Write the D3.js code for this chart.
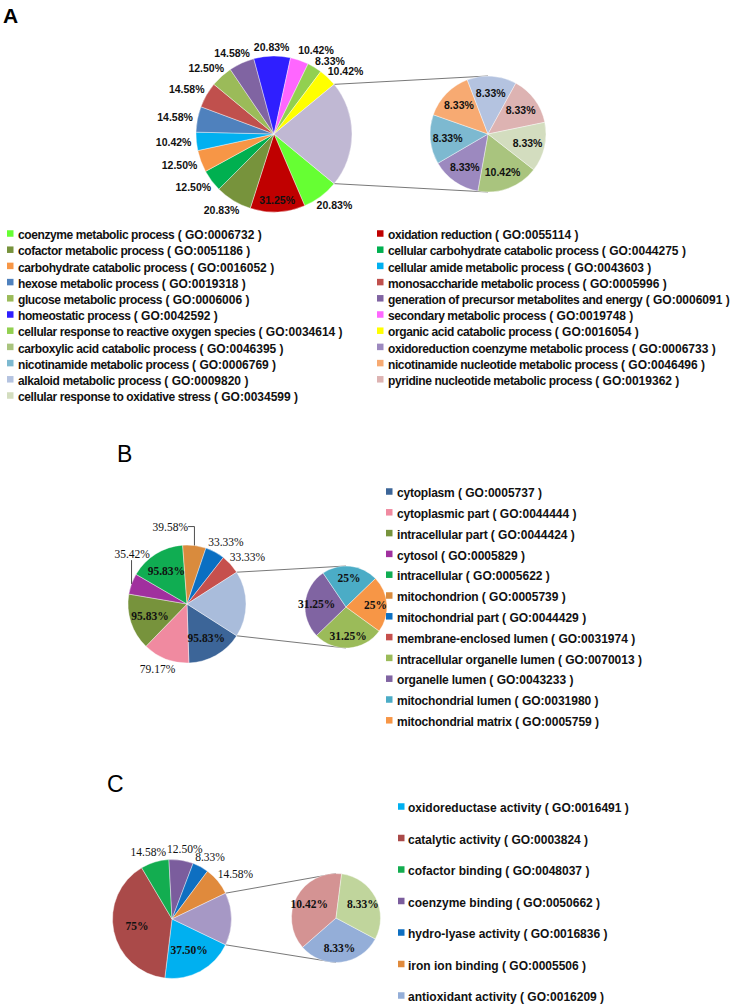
<!DOCTYPE html>
<html>
<head>
<meta charset="utf-8">
<script src="https://cdn.jsdelivr.net/npm/d3@7"></script>
<style>
  body { margin: 0; background: #fff; }
  svg { display: block; }
  .leg { font-family: "Liberation Sans", Arial, sans-serif; font-weight: bold; font-size: 12px; fill: #111; }
  .panel { font-family: "Liberation Sans", Arial, sans-serif; fill: #000; }
</style>
</head>
<body>
<svg id="fig" width="735" height="1008"></svg>
<script>
// ---- panel A : biological process ----
const A_MAIN = ["coenzyme metabolic process", "oxidation reduction", "cofactor metabolic process",
  "cellular carbohydrate catabolic process", "carbohydrate catabolic process", "cellular amide metabolic process",
  "hexose metabolic process", "monosaccharide metabolic process", "glucose metabolic process",
  "generation of precursor metabolites and energy", "homeostatic process", "secondary metabolic process",
  "cellular response to reactive oxygen species", "organic acid catabolic process"];
const A_MAIN_GO = ["0006732", "0055114", "0051186", "0044275", "0016052", "0043603", "0019318",
  "0005996", "0006006", "0006091", "0042592", "0019748", "0034614", "0016054"];
const A_MAIN_VAL = [20.83, 31.25, 20.83, 12.50, 12.50, 10.42, 14.58, 14.58, 12.50, 14.58, 20.83, 10.42, 8.33, 10.42];
const A_MAIN_COL = ["#66ff33", "#c00000", "#77933c", "#00b050", "#f79646", "#00b0f0", "#4f81bd",
  "#c0504d", "#9bbb59", "#8064a2", "#2f1fff", "#ff66ff", "#92d050", "#ffff00"];
const A_SUB = ["carboxylic acid catabolic process", "oxidoreduction coenzyme metabolic process",
  "nicotinamide metabolic process", "nicotinamide nucleotide metabolic process", "alkaloid metabolic process",
  "pyridine nucleotide metabolic process", "cellular response to oxidative stress"];
const A_SUB_GO = ["0046395", "0006733", "0006769", "0046496", "0009820", "0019362", "0034599"];
const A_SUB_VAL = [10.42, 8.33, 8.33, 8.33, 8.33, 8.33, 8.33];
const A_SUB_COL = ["#a9c47e", "#9c89bf", "#7db9d0", "#f7aa72", "#b4c3e0", "#ddb3b2", "#d3ddbf"];
const A_OTHER_COL = "#c0b8d3";

// ---- panel B : cellular component ----
const B_MAIN = ["cytoplasm", "cytoplasmic part", "intracellular part", "cytosol", "intracellular",
  "mitochondrion", "mitochondrial part", "membrane-enclosed lumen"];
const B_MAIN_GO = ["0005737", "0044444", "0044424", "0005829", "0005622", "0005739", "0044429", "0031974"];
const B_MAIN_VAL = [95.83, 79.17, 95.83, 35.42, 95.83, 39.58, 33.33, 33.33];
const B_MAIN_COL = ["#3c6598", "#f08aa0", "#77933c", "#a0309e", "#10ad52", "#d98b3d", "#0a6fc2", "#c6504d"];
const B_SUB = ["intracellular organelle lumen", "organelle lumen", "mitochondrial lumen", "mitochondrial matrix"];
const B_SUB_GO = ["0070013", "0043233", "0031980", "0005759"];
const B_SUB_VAL = [31.25, 31.25, 25, 25];
const B_SUB_COL = ["#9bbb59", "#8064a2", "#4bacc6", "#f79646"];
const B_OTHER_COL = "#a9bcdb";

// ---- panel C : molecular function ----
const C_MAIN = ["oxidoreductase activity", "catalytic activity", "cofactor binding", "coenzyme binding",
  "hydro-lyase activity", "iron ion binding"];
const C_MAIN_GO = ["0016491", "0003824", "0048037", "0050662", "0016836", "0005506"];
const C_MAIN_VAL = [37.50, 75, 14.58, 12.50, 8.33, 14.58];
const C_MAIN_COL = ["#00b0f0", "#aa4a49", "#13ad50", "#7b5d9d", "#0e6fc1", "#e08a3c"];
// the last two legend rows fall below the picture, so their names are unknown
const C_SUB = ["antioxidant activity", null, null];
const C_SUB_GO = ["0016209", null, null];
const C_SUB_VAL = [8.33, 10.42, 8.33];
const C_SUB_COL = ["#94aed8", "#d49393", "#c0d59c"];
const C_OTHER_COL = "#a698c5";

const SVG = d3.select("#fig");
const fmt = v => (Number.isInteger(v) ? v : v.toFixed(2)) + "%";
const pt = (a, r) => [Math.sin(a) * r, -Math.cos(a) * r];

function pieOfPie(p) {
  const g = SVG.append("g");
  const other = d3.sum(p.subVal);
  const main = p.mainVal.map((v, i) => ({ v, col: p.mainCol[i], i }));
  main.push({ v: other, col: p.otherCol, i: -1 });
  const half = other / d3.sum(main, d => d.v) * Math.PI;
  const start = Math.PI / 2 + half;   // "other" slice centred on 3 o'clock

  const arcs = d3.pie().sort(null).value(d => d.v)
    .startAngle(start).endAngle(start + 2 * Math.PI)(main);
  const arc = d3.arc().innerRadius(0).outerRadius(p.r);

  // connector lines
  const up = pt(Math.PI / 2 - half, p.r), lo = pt(Math.PI / 2 + half, p.r);
  g.append("line").attr("x1", p.cx + up[0]).attr("y1", p.cy + up[1])
    .attr("x2", p.sx).attr("y2", p.sy - p.sr).attr("stroke", "#555").attr("stroke-width", 0.8);
  g.append("line").attr("x1", p.cx + lo[0]).attr("y1", p.cy + lo[1])
    .attr("x2", p.sx).attr("y2", p.sy + p.sr).attr("stroke", "#555").attr("stroke-width", 0.8);

  const mg = g.append("g").attr("transform", `translate(${p.cx},${p.cy})`);
  mg.selectAll("path").data(arcs).join("path")
    .attr("d", arc).attr("fill", d => d.data.col)
    .attr("stroke", "#fff").attr("stroke-width", 0.4);

  const sub = p.subVal.map((v, i) => ({ v, col: p.subCol[i] }));
  const subArcs = d3.pie().sort(null).value(d => d.v)
    .startAngle(p.subStart).endAngle(p.subStart + 2 * Math.PI)(sub);
  const subArc = d3.arc().innerRadius(0).outerRadius(p.sr);
  const sg = g.append("g").attr("transform", `translate(${p.sx},${p.sy})`);
  sg.selectAll("path").data(subArcs).join("path")
    .attr("d", subArc).attr("fill", d => d.data.col)
    .attr("stroke", "#fff").attr("stroke-width", 0.4);

  // value labels
  const lab = (parent, txt) => parent.append("text")
    .attr("text-anchor", "middle").attr("dy", "0.35em")
    .attr("font-family", p.labFont).attr("font-size", p.labSize)
    .attr("font-weight", "bold").attr("fill", "#111").text(txt);

  arcs.filter(d => d.data.i >= 0).forEach(d => {
    const a = (d.startAngle + d.endAngle) / 2;
    const i = d.data.i;
    const t = lab(mg, fmt(d.data.v));
    if (p.inside.includes(i)) {
      const c = pt(a, p.r * p.inR);
      t.attr("x", c[0]).attr("y", c[1]);
      return;
    }
    if (p.outWeight) t.attr("font-weight", p.outWeight);
    const w = t.node().getComputedTextLength();
    const anc = pt(a, p.r + p.gap);
    let x = anc[0] + Math.sin(a) * w / 2;
    let y = anc[1] - Math.cos(a) * 6;
    const sh = p.shift && p.shift[i];
    if (sh) {
      x += sh[0]; y += sh[1];
      const e = pt(a, p.r);
      if (sh[2] !== "n") {
        const pts = sh[2] === "v"
          ? [e, [e[0], y + 6]]
          : [e, [e[0], y], [x + w / 2, y]];
        mg.append("polyline").attr("points", pts.map(q => q.join(",")).join(" "))
          .attr("fill", "none").attr("stroke", "#222").attr("stroke-width", 0.8);
      }
    }
    t.attr("x", x).attr("y", y);
  });
  subArcs.forEach(d => {
    const c = pt((d.startAngle + d.endAngle) / 2, p.sr * p.subInR);
    lab(sg, fmt(d.data.v)).attr("x", c[0]).attr("y", c[1]);
  });

  // legend (row-major over the columns)
  const items = p.mainNames.map((n, i) => ({ n, go: p.mainGo[i], col: p.mainCol[i] }))
    .concat(p.subNames.map((n, i) => ({ n, go: p.subGo[i], col: p.subCol[i] })))
    .filter(d => d.n);
  const L = p.legend;
  items.forEach((d, k) => {
    const x = L.x + (k % L.cols) * L.colDx;
    const y = L.y + Math.floor(k / L.cols) * L.dy;
    g.append("rect").attr("x", x).attr("y", y - L.sq / 2 - 1.5)
      .attr("width", L.sq).attr("height", L.sq).attr("fill", d.col);
    const t = g.append("text").attr("class", "leg")
      .attr("x", x + L.tx).attr("y", y).attr("dy", "0.35em");
    t.append("tspan").attr("letter-spacing", L.ls).text(d.n);
    t.append("tspan").text(` ( GO:${d.go} )`);
  });

  SVG.append("text").attr("class", "panel")
    .attr("x", p.tag[0]).attr("y", p.tag[1])
    .attr("font-size", p.tag[2]).attr("font-weight", p.tag[3])
    .text(p.tag[4]);
}

pieOfPie({
  mainNames: A_MAIN, mainGo: A_MAIN_GO, mainVal: A_MAIN_VAL, mainCol: A_MAIN_COL,
  subNames: A_SUB, subGo: A_SUB_GO, subVal: A_SUB_VAL, subCol: A_SUB_COL, otherCol: A_OTHER_COL,
  cx: 274, cy: 134, r: 78, sx: 488, sy: 134, sr: 58, subStart: 2.234,
  labFont: "'Liberation Sans', Arial, sans-serif", labSize: 10.5,
  inside: [1], inR: 0.85, gap: 5, subInR: 0.7,
  shift: { 10: [0, 2, "n"], 11: [9, 0, "n"], 12: [5, 3, "n"], 13: [2, 2, "n"] },
  legend: { x: 7, y: 235, dy: 16.2, cols: 2, colDx: 370, sq: 6.5, tx: 11, ls: -0.4 },
  tag: [3, 23, 21, "bold", "A"]
});

pieOfPie({
  mainNames: B_MAIN, mainGo: B_MAIN_GO, mainVal: B_MAIN_VAL, mainCol: B_MAIN_COL,
  subNames: B_SUB, subGo: B_SUB_GO, subVal: B_SUB_VAL, subCol: B_SUB_COL, otherCol: B_OTHER_COL,
  cx: 187, cy: 604, r: 59, sx: 346, sy: 607, sr: 41, subStart: 2.199,
  labFont: "'Liberation Serif', 'Times New Roman', serif", labSize: 11.5, outWeight: "normal",
  inside: [0, 2, 4], inR: 0.66, gap: 5, subInR: 0.72,
  shift: { 3: [22, -26, "v"], 5: [-27, -8, "h"] },
  legend: { x: 386, y: 493, dy: 20.8, cols: 1, colDx: 0, sq: 6.5, tx: 11, ls: -0.2 },
  tag: [117, 462, 23, "normal", "B"]
});

pieOfPie({
  mainNames: C_MAIN, mainGo: C_MAIN_GO, mainVal: C_MAIN_VAL, mainCol: C_MAIN_COL,
  subNames: C_SUB, subGo: C_SUB_GO, subVal: C_SUB_VAL, subCol: C_SUB_COL, otherCol: C_OTHER_COL,
  cx: 172, cy: 919, r: 59.5, sx: 336, sy: 918, sr: 44.5, subStart: 2.06,
  labFont: "'Liberation Serif', 'Times New Roman', serif", labSize: 11.5, outWeight: "normal",
  inside: [0, 1], inR: 0.6, gap: 5, subInR: 0.68,
  legend: { x: 398, y: 808, dy: 31.5, cols: 1, colDx: 0, sq: 6.5, tx: 10, ls: 0 },
  tag: [107, 792, 23, "normal", "C"]
});
</script>
</body>
</html>
